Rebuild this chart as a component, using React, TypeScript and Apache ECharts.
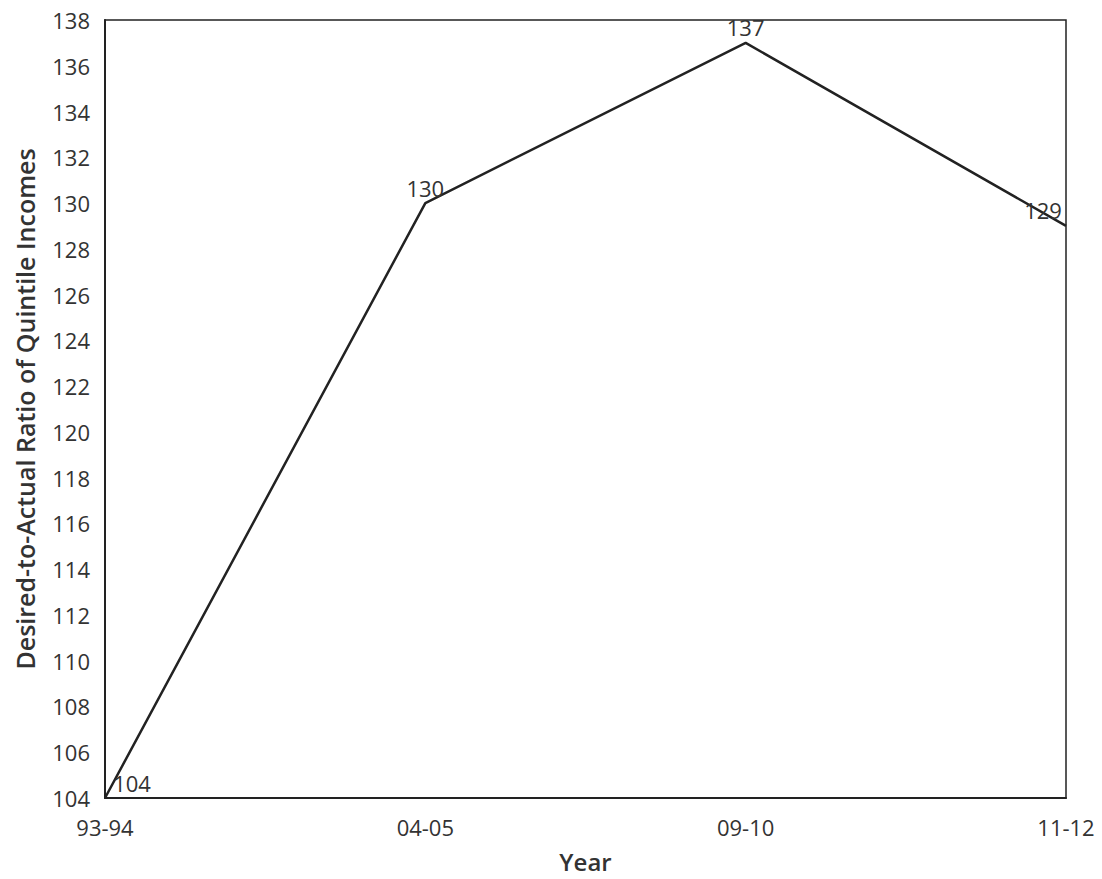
import React, { useEffect, useRef } from "react";
import * as echarts from "echarts";

const categories = ["93-94", "04-05", "09-10", "11-12"];
const values = [104, 130, 137, 129];
const labelOffsets = [[27, 0], [0, 0], [0, 0], [-23, 0]];
const yTicks = { min: 104, max: 138, interval: 2 };

export default function App() {
  const ref = useRef<HTMLDivElement>(null);
  useEffect(() => {
    if (!ref.current) return;
    const chart = echarts.init(ref.current, null, { renderer: "svg" });
    const font = "'Open Sans', 'Noto Sans', sans-serif";
    chart.setOption({
      animation: false,
      textStyle: { fontFamily: font },
      grid: {
        left: 105,
        right: 36,
        top: 20,
        bottom: 81,
        containLabel: false,
        outerBoundsMode: "none",
        show: true,
        borderColor: "#222",
        borderWidth: 1.5,
        backgroundColor: "#fff",
      },
      xAxis: {
        type: "category",
        data: categories,
        boundaryGap: false,
        name: "Year",
        nameLocation: "middle",
        nameGap: 51,
        nameTextStyle: { fontFamily: font, fontSize: 24, lineHeight: 24, fontWeight: 600, color: "#333" },
        axisLine: { lineStyle: { color: "#222", width: 2 } },
        axisTick: { show: false },
        axisLabel: { fontFamily: font, fontSize: 22, color: "#333", margin: 18 },
        splitLine: { show: false },
      },
      yAxis: {
        type: "value",
        min: yTicks.min,
        max: yTicks.max,
        interval: yTicks.interval,
        name: "Desired-to-Actual Ratio of Quintile Incomes",
        nameLocation: "middle",
        nameGap: 68,
        nameTextStyle: { fontFamily: font, fontSize: 25, fontWeight: 600, color: "#333" },
        axisLine: { show: true, lineStyle: { color: "#222", width: 2 } },
        axisTick: { show: false },
        axisLabel: { fontFamily: font, fontSize: 22, color: "#333", margin: 15 },
        splitLine: { show: false },
      },
      series: [
        {
          type: "line",
          data: values.map((v, i) => ({
            value: v,
            label: { offset: labelOffsets[i] },
          })),
          showSymbol: true,
          symbol: "circle",
          symbolSize: 1,
          itemStyle: { color: "rgba(0,0,0,0)" },
          lineStyle: { color: "#222", width: 2.5 },
          label: {
            show: true,
            position: "top",
            distance: 4,
            fontFamily: font,
            fontSize: 22,
            color: "#333",
          },
        },
      ],
    });
    return () => chart.dispose();
  }, []);
  return (
    <div
      ref={ref}
      style={{ position: "fixed", left: 0, top: 0, width: 1102, height: 879, background: "#fff" }}
    />
  );
}
